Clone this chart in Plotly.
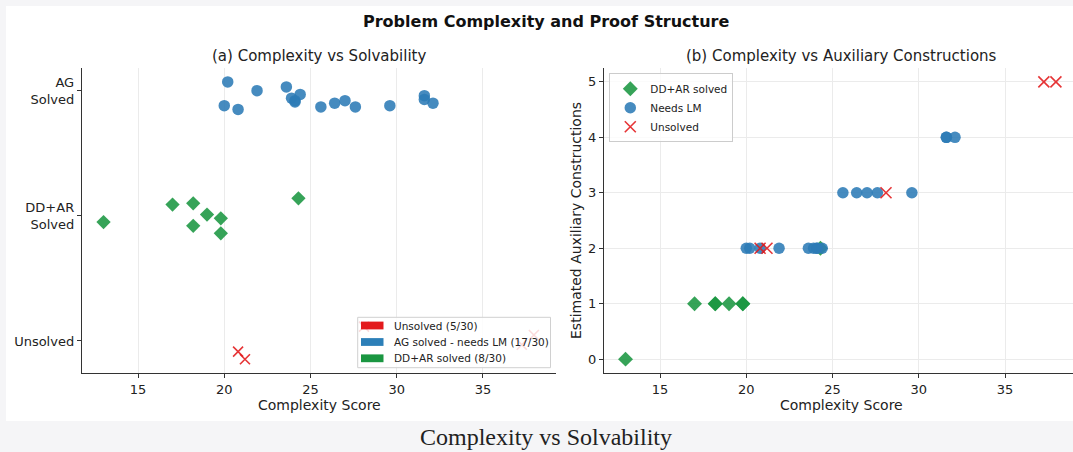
import plotly.graph_objects as go

W, H = 1073, 452

# ---------------- data ----------------
category_labels = ["Unsolved", "DD+AR<br>Solved", "AG<br>Solved"]
category_levels = [0, 1, 2]
x_ticks = [15, 20, 25, 30, 35]
aux_ticks = [0, 1, 2, 3, 4, 5]

# DD+AR solved (8/30)
dd_complexity = [13.0, 17.0, 18.2, 18.2, 19.0, 19.8, 19.8, 24.3]
dd_level_jit = [0.95, 1.09, 1.10, 0.92, 1.01, 0.98, 0.86, 1.14]
dd_aux = [0, 1, 1, 1, 1, 1, 1, 2]

# AG solved - needs LM (17/30)
lm_complexity = [20.0, 20.2, 20.8, 21.9, 23.6, 23.9, 24.1, 24.1, 24.4,
                 25.6, 26.4, 27.0, 27.6, 29.6, 31.6, 31.6, 32.1]
lm_level_jit = [1.88, 2.07, 1.85, 2.00, 2.03, 1.94, 1.92, 1.91, 1.97,
                1.87, 1.90, 1.92, 1.87, 1.88, 1.96, 1.93, 1.90]
lm_aux = [2, 2, 2, 2, 2, 2, 2, 2, 2, 3, 3, 3, 3, 3, 4, 4, 4]

# Unsolved (5/30)
un_complexity = [20.8, 21.2, 28.1, 37.25, 37.95]
un_level_jit = [-0.085, -0.146, 0.114, -0.03, 0.048]
un_aux = [2, 2, 3, 5, 5]

legend_a_labels = ["Unsolved (5/30)", "AG solved - needs LM (17/30)", "DD+AR solved (8/30)"]

# ---------------- styles ----------------
GREEN = "#1a9641"
BLUE = "#2c7bb6"
RED = "#e31a1c"
LEG_BLUE = "#2c7fb8"
TXT = "#222222"
AX = "#333333"
GRID = "#ebebeb"
FONT = "DejaVu Sans"


def px(x):
    return x / W


def py(y):
    return 1 - y / H


fig = go.Figure()

# panel (a)
fig.add_trace(go.Scatter(x=dd_complexity, y=dd_level_jit, mode="markers", xaxis="x", yaxis="y",
                         marker=dict(symbol="diamond", size=11, color=GREEN, opacity=0.88,
                                     line=dict(width=0)), showlegend=False, hoverinfo="skip"))
fig.add_trace(go.Scatter(x=lm_complexity, y=lm_level_jit, mode="markers", xaxis="x", yaxis="y",
                         marker=dict(symbol="circle", size=11.5, color=BLUE, opacity=0.88,
                                     line=dict(width=0)), showlegend=False, hoverinfo="skip"))
fig.add_trace(go.Scatter(x=un_complexity, y=un_level_jit, mode="markers", xaxis="x", yaxis="y",
                         marker=dict(symbol="x-thin", size=10, color=RED, opacity=0.88,
                                     line=dict(width=1.6, color=RED)), showlegend=False, hoverinfo="skip"))

# panel (b)
fig.add_trace(go.Scatter(x=dd_complexity, y=dd_aux, mode="markers", xaxis="x2", yaxis="y2",
                         name="DD+AR solved",
                         marker=dict(symbol="diamond", size=11.5, color=GREEN, opacity=0.88,
                                     line=dict(width=0)), hoverinfo="skip"))
fig.add_trace(go.Scatter(x=lm_complexity, y=lm_aux, mode="markers", xaxis="x2", yaxis="y2",
                         name="Needs LM",
                         marker=dict(symbol="circle", size=11.5, color=BLUE, opacity=0.88,
                                     line=dict(width=0)), hoverinfo="skip"))
fig.add_trace(go.Scatter(x=un_complexity, y=un_aux, mode="markers", xaxis="x2", yaxis="y2",
                         name="Unsolved",
                         marker=dict(symbol="x-thin", size=11, color=RED, opacity=0.88,
                                     line=dict(width=1.6, color=RED)), hoverinfo="skip"))

ax_common = dict(showline=True, linecolor=AX, linewidth=1, ticks="outside", ticklen=4,
                 tickcolor=AX, tickwidth=1, zeroline=False, gridcolor=GRID, gridwidth=1,
                 tickfont=dict(family=FONT, size=13, color=TXT))

ydom = [py(373), py(68)]

fig.update_layout(
    width=W, height=H,
    margin=dict(l=0, r=0, t=0, b=0),
    paper_bgcolor="#f5f5f7",
    plot_bgcolor="rgba(0,0,0,0)",
    font=dict(family=FONT, color=TXT),
    xaxis=dict(domain=[px(81.8), px(556.3)], range=[11.74, 39.25], tickvals=x_ticks,
               showgrid=True, anchor="y", **ax_common),
    yaxis=dict(domain=ydom, range=[-0.256, 2.181], tickvals=category_levels,
               ticktext=category_labels, showgrid=False, anchor="x", **ax_common),
    xaxis2=dict(domain=[px(603.8), 1.0], range=[11.74, 38.94], tickvals=x_ticks,
                showgrid=True, anchor="y2", **ax_common),
    yaxis2=dict(domain=ydom, range=[-0.25, 5.25], tickvals=aux_ticks,
                showgrid=True, anchor="x2", **ax_common),
    showlegend=True,
    legend=dict(x=px(609.3), y=py(73.3), xanchor="left", yanchor="top",
                bgcolor="rgba(255,255,255,0.8)", bordercolor="#cccccc", borderwidth=1,
                font=dict(family=FONT, size=10.5, color=TXT), itemsizing="trace"),
)

shapes = []
# white card
shapes.append(dict(type="rect", xref="paper", yref="paper", x0=px(6), x1=1.02, y0=py(421), y1=py(6),
                   fillcolor="white", line=dict(width=0), layer="below"))
# panel (a) legend box
shapes.append(dict(type="rect", xref="paper", yref="paper", x0=px(357.7), x1=px(550.5),
                   y0=py(367.7), y1=py(317.3), fillcolor="rgba(255,255,255,0.82)",
                   line=dict(color="#d0d0d0", width=1), layer="above"))
leg_colors = [RED, LEG_BLUE, GREEN]
leg_y = [325.5, 342.0, 358.3]
annotations = []
for lab, col, yy in zip(legend_a_labels, leg_colors, leg_y):
    shapes.append(dict(type="rect", xref="paper", yref="paper", x0=px(361), x1=px(383.5),
                       y0=py(yy + 3.9), y1=py(yy - 3.9), fillcolor=col, line=dict(width=0),
                       layer="above"))
    annotations.append(dict(text=lab, xref="paper", yref="paper", x=px(391.5), y=py(yy),
                            xanchor="left", yanchor="middle", showarrow=False,
                            font=dict(family=FONT, size=10.5, color=TXT)))

annotations += [
    dict(text="<b>Problem Complexity and Proof Structure</b>", x=px(546), y=py(21),
         font=dict(family=FONT, size=16, color="#111111")),
    dict(text="(a) Complexity vs Solvability", x=px(319), y=py(56),
         font=dict(family=FONT, size=15, color=TXT)),
    dict(text="(b) Complexity vs Auxiliary Constructions", x=px(841), y=py(56),
         font=dict(family=FONT, size=15, color=TXT)),
    dict(text="Complexity Score", x=px(319), y=py(405),
         font=dict(family=FONT, size=14, color=TXT)),
    dict(text="Complexity Score", x=px(841), y=py(405),
         font=dict(family=FONT, size=14, color=TXT)),
    dict(text="Estimated Auxiliary Constructions", x=px(576), y=py(221), textangle=-90,
         font=dict(family=FONT, size=14, color=TXT)),
    dict(text="Complexity vs Solvability", x=px(546), y=py(437),
         font=dict(family="Liberation Serif", size=24, color="#222222")),
]
for a in annotations[len(legend_a_labels):]:
    a.update(xref="paper", yref="paper", xanchor="center", yanchor="middle", showarrow=False)

fig.update_layout(shapes=shapes, annotations=annotations)
fig.write_html(
    "out.html",
    config={"displayModeBar": False},
    post_script="document.body.style.margin='0';document.body.style.overflow='hidden';",
)
